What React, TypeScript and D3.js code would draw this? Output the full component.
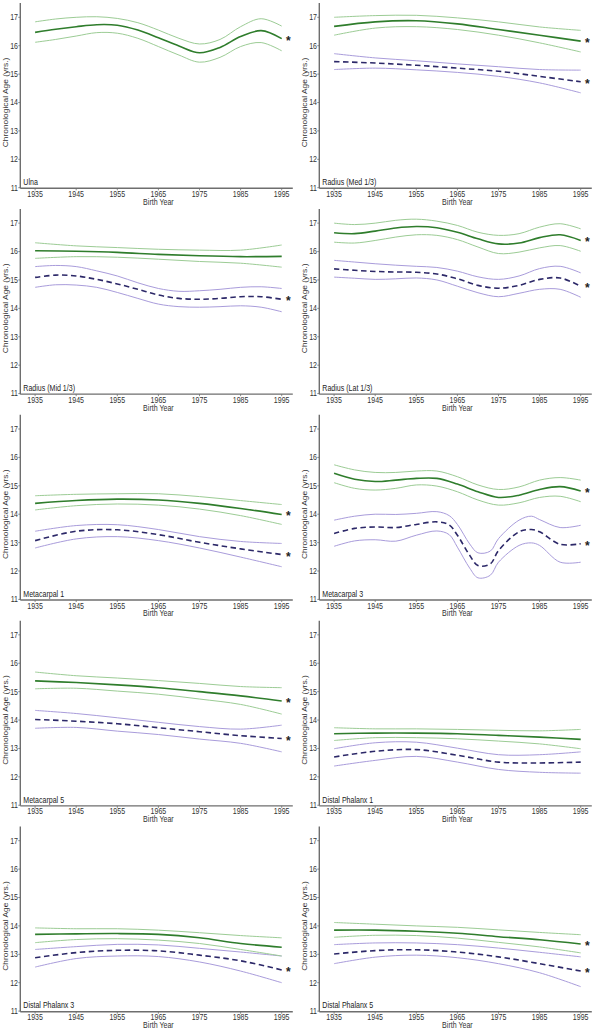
import React from "react";
import * as d3 from "d3";

// ---------- data ----------
const years10 = [1935, 1945, 1955, 1965, 1975, 1985, 1995];
const years5 = [1935, 1940, 1945, 1950, 1955, 1960, 1965, 1970, 1975, 1980, 1985, 1990, 1995];
const yearsMc3Purple = [1935, 1940, 1945, 1950, 1955, 1960, 1963, 1965, 1968, 1970, 1973, 1975, 1980, 1983, 1985, 1990, 1995];

const yTicks = [11, 12, 13, 14, 15, 16, 17];
const xTicks = [1935, 1945, 1955, 1965, 1975, 1985, 1995];

// Ulna
const ulnaGreen = [16.47, 16.58, 16.67, 16.74, 16.72, 16.55, 16.28, 15.99, 15.75, 15.94, 16.32, 16.53, 16.25];
const ulnaGreenHi = [16.84, 16.94, 17.0, 17.02, 16.96, 16.81, 16.55, 16.26, 16.06, 16.22, 16.67, 16.95, 16.69];
const ulnaGreenLo = [16.12, 16.22, 16.34, 16.46, 16.44, 16.26, 15.97, 15.67, 15.42, 15.59, 15.97, 16.11, 15.82];

// Radius (Med 1/3)
const radMedGreen = [16.68, 16.84, 16.88, 16.77, 16.57, 16.37, 16.16];
const radMedGreenHi = [17.0, 17.06, 17.07, 16.98, 16.84, 16.66, 16.54];
const radMedGreenLo = [16.37, 16.62, 16.67, 16.57, 16.37, 16.1, 15.78];
const radMedPurple = [15.44, 15.39, 15.31, 15.21, 15.1, 14.92, 14.73];
const radMedPurpleHi = [15.72, 15.57, 15.47, 15.36, 15.26, 15.16, 15.14];
const radMedPurpleLo = [15.16, 15.21, 15.15, 15.06, 14.92, 14.69, 14.34];

// Radius (Mid 1/3)
const radMidGreen = [16.03, 16.01, 15.97, 15.9, 15.85, 15.82, 15.83];
const radMidGreenHi = [16.31, 16.2, 16.14, 16.08, 16.05, 16.05, 16.23];
const radMidGreenLo = [15.76, 15.82, 15.8, 15.73, 15.65, 15.59, 15.45];
const radMidPurple = [15.09, 15.17, 15.14, 15.02, 14.86, 14.67, 14.47, 14.35, 14.32, 14.35, 14.41, 14.41, 14.32];
const radMidPurpleHi = [15.47, 15.51, 15.47, 15.32, 15.14, 14.9, 14.7, 14.6, 14.62, 14.67, 14.74, 14.76, 14.7];
const radMidPurpleLo = [14.74, 14.83, 14.82, 14.74, 14.56, 14.35, 14.15, 14.06, 14.04, 14.06, 14.09, 14.04, 13.88];

// Radius (Lat 1/3)
const radLatGreen = [16.66, 16.63, 16.72, 16.83, 16.88, 16.84, 16.68, 16.45, 16.27, 16.3, 16.49, 16.59, 16.39];
const radLatGreenHi = [17.0, 16.95, 17.0, 17.1, 17.14, 17.07, 16.92, 16.68, 16.57, 16.63, 16.86, 16.98, 16.8];
const radLatGreenLo = [16.33, 16.3, 16.39, 16.51, 16.59, 16.57, 16.42, 16.16, 15.93, 15.98, 16.13, 16.21, 16.01];
const radLatPurple = [15.39, 15.34, 15.3, 15.28, 15.27, 15.21, 15.04, 14.81, 14.71, 14.81, 15.02, 15.07, 14.78];
const radLatPurpleHi = [15.69, 15.63, 15.57, 15.52, 15.48, 15.44, 15.31, 15.11, 15.02, 15.14, 15.4, 15.48, 15.25];
const radLatPurpleLo = [15.1, 15.06, 15.02, 15.04, 15.07, 15.0, 14.78, 14.55, 14.41, 14.53, 14.67, 14.67, 14.39];

// Metacarpal 1
const mc1Green = [14.38, 14.48, 14.53, 14.5, 14.38, 14.2, 13.99];
const mc1GreenHi = [14.65, 14.7, 14.72, 14.72, 14.62, 14.48, 14.34];
const mc1GreenLo = [14.15, 14.3, 14.36, 14.32, 14.18, 13.95, 13.64];
const mc1Purple = [13.07, 13.4, 13.45, 13.28, 13.01, 12.78, 12.58];
const mc1PurpleHi = [13.4, 13.6, 13.63, 13.46, 13.21, 13.04, 12.97];
const mc1PurpleLo = [12.81, 13.13, 13.21, 13.07, 12.81, 12.49, 12.15];

// Metacarpal 3
const mc3Green = [15.44, 15.23, 15.15, 15.2, 15.26, 15.26, 15.06, 14.79, 14.59, 14.67, 14.87, 14.97, 14.82];
const mc3GreenHi = [15.74, 15.56, 15.47, 15.47, 15.52, 15.52, 15.32, 15.03, 14.87, 14.96, 15.2, 15.29, 15.2];
const mc3GreenLo = [15.11, 14.91, 14.85, 14.91, 15.03, 14.99, 14.79, 14.5, 14.32, 14.4, 14.59, 14.63, 14.44];
const mc3Purple = [13.32, 13.5, 13.55, 13.53, 13.64, 13.73, 13.62, 13.26, 12.55, 12.19, 12.25, 12.72, 13.38, 13.46, 13.38, 12.94, 12.96];
const mc3PurpleHi = [13.79, 13.93, 14.0, 13.99, 14.03, 14.09, 13.95, 13.64, 12.95, 12.64, 12.7, 13.14, 13.79, 13.93, 13.81, 13.53, 13.61];
const mc3PurpleLo = [12.87, 13.06, 13.1, 13.05, 13.26, 13.41, 13.28, 12.84, 12.1, 11.76, 11.85, 12.31, 12.9, 12.99, 12.9, 12.31, 12.31];

// Metacarpal 5
const mc5Green = [15.38, 15.32, 15.24, 15.14, 15.0, 14.85, 14.67];
const mc5GreenHi = [15.69, 15.56, 15.48, 15.39, 15.29, 15.18, 15.14];
const mc5GreenLo = [15.1, 15.12, 15.02, 14.91, 14.74, 14.55, 14.21];
const mc5Purple = [14.02, 13.96, 13.87, 13.73, 13.59, 13.45, 13.35];
const mc5PurpleHi = [14.34, 14.23, 14.08, 13.92, 13.77, 13.68, 13.82];
const mc5PurpleLo = [13.71, 13.74, 13.61, 13.49, 13.33, 13.18, 12.88];

// Distal Phalanx 1
const dp1Green = [13.52, 13.54, 13.54, 13.52, 13.46, 13.4, 13.32];
const dp1GreenHi = [13.73, 13.69, 13.69, 13.67, 13.64, 13.62, 13.67];
const dp1GreenLo = [13.28, 13.38, 13.38, 13.34, 13.26, 13.16, 12.99];
const dp1Purple = [12.7, 12.9, 12.96, 12.76, 12.52, 12.49, 12.52];
const dp1PurpleHi = [12.99, 13.2, 13.22, 13.01, 12.78, 12.78, 12.88];
const dp1PurpleLo = [12.38, 12.58, 12.72, 12.52, 12.26, 12.16, 12.13];

// Distal Phalanx 3
const dp3Green = [13.7, 13.72, 13.73, 13.7, 13.58, 13.38, 13.25];
const dp3GreenHi = [13.93, 13.9, 13.9, 13.85, 13.76, 13.66, 13.58];
const dp3GreenLo = [13.41, 13.52, 13.55, 13.5, 13.38, 13.17, 12.94];
const dp3Purple = [12.88, 13.06, 13.14, 13.12, 12.97, 12.77, 12.45];
const dp3PurpleHi = [13.17, 13.27, 13.35, 13.33, 13.21, 13.08, 12.94];
const dp3PurpleLo = [12.55, 12.85, 12.94, 12.92, 12.73, 12.41, 12.0];

// Distal Phalanx 5
const dp5Green = [13.85, 13.85, 13.81, 13.74, 13.62, 13.51, 13.36];
const dp5GreenHi = [14.12, 14.06, 14.0, 13.95, 13.86, 13.77, 13.69];
const dp5GreenLo = [13.6, 13.67, 13.66, 13.57, 13.42, 13.26, 13.05];
const dp5Purple = [13.01, 13.13, 13.16, 13.08, 12.91, 12.67, 12.41];
const dp5PurpleHi = [13.34, 13.4, 13.4, 13.34, 13.22, 13.07, 12.91];
const dp5PurpleLo = [12.67, 12.9, 12.97, 12.88, 12.67, 12.35, 11.86];

type Band = { years: number[]; mean: number[]; hi: number[]; lo: number[]; star: boolean };
type Panel = { label: string; green: Band; purple?: Band };

const panels: Panel[] = [
  { label: "Ulna", green: { years: years5, mean: ulnaGreen, hi: ulnaGreenHi, lo: ulnaGreenLo, star: true } },
  {
    label: "Radius (Med 1/3)",
    green: { years: years10, mean: radMedGreen, hi: radMedGreenHi, lo: radMedGreenLo, star: true },
    purple: { years: years10, mean: radMedPurple, hi: radMedPurpleHi, lo: radMedPurpleLo, star: true },
  },
  {
    label: "Radius (Mid 1/3)",
    green: { years: years10, mean: radMidGreen, hi: radMidGreenHi, lo: radMidGreenLo, star: false },
    purple: { years: years5, mean: radMidPurple, hi: radMidPurpleHi, lo: radMidPurpleLo, star: true },
  },
  {
    label: "Radius (Lat 1/3)",
    green: { years: years5, mean: radLatGreen, hi: radLatGreenHi, lo: radLatGreenLo, star: true },
    purple: { years: years5, mean: radLatPurple, hi: radLatPurpleHi, lo: radLatPurpleLo, star: true },
  },
  {
    label: "Metacarpal 1",
    green: { years: years10, mean: mc1Green, hi: mc1GreenHi, lo: mc1GreenLo, star: true },
    purple: { years: years10, mean: mc1Purple, hi: mc1PurpleHi, lo: mc1PurpleLo, star: true },
  },
  {
    label: "Metacarpal 3",
    green: { years: years5, mean: mc3Green, hi: mc3GreenHi, lo: mc3GreenLo, star: true },
    purple: { years: yearsMc3Purple, mean: mc3Purple, hi: mc3PurpleHi, lo: mc3PurpleLo, star: true },
  },
  {
    label: "Metacarpal 5",
    green: { years: years10, mean: mc5Green, hi: mc5GreenHi, lo: mc5GreenLo, star: true },
    purple: { years: years10, mean: mc5Purple, hi: mc5PurpleHi, lo: mc5PurpleLo, star: true },
  },
  {
    label: "Distal Phalanx 1",
    green: { years: years10, mean: dp1Green, hi: dp1GreenHi, lo: dp1GreenLo, star: false },
    purple: { years: years10, mean: dp1Purple, hi: dp1PurpleHi, lo: dp1PurpleLo, star: false },
  },
  {
    label: "Distal Phalanx 3",
    green: { years: years10, mean: dp3Green, hi: dp3GreenHi, lo: dp3GreenLo, star: false },
    purple: { years: years10, mean: dp3Purple, hi: dp3PurpleHi, lo: dp3PurpleLo, star: true },
  },
  {
    label: "Distal Phalanx 5",
    green: { years: years10, mean: dp5Green, hi: dp5GreenHi, lo: dp5GreenLo, star: true },
    purple: { years: years10, mean: dp5Purple, hi: dp5PurpleHi, lo: dp5PurpleLo, star: true },
  },
];

// ---------- styles ----------
const FONT = "'Liberation Sans', Arial, sans-serif";
const AXIS = "#6e6e6e";
const TEXT = "#333333";
const GREEN = "#2f7d2c";
const GREEN_CI = "#9ccc95";
const PURPLE = "#2c2868";
const PURPLE_CI = "#a99cdb";
const FS = 8.4;
const SQ = 0.84; // horizontal squeeze of the reference typography

const W = 595;
const H = 1030;
const COL_DX = 299;
const ROW_DY = 205.85;

const xScale = d3.scaleLinear().domain([1931.4, 1997.7]).range([20.3, 292.8]);
const yScale = d3.scaleLinear().domain([11, 17]).range([187.7, 17.3]);
const yTop = yScale(17.5);
const yBot = 188.3;

function lineFor(years: number[], vals: number[]) {
  const gen = d3
    .line<number>()
    .x((_, i) => xScale(years[i]))
    .y((v) => yScale(v))
    .curve(d3.curveCatmullRom.alpha(0.5));
  return gen(vals) || "";
}

function SqText({
  x,
  y,
  anchor,
  size,
  fill,
  dy,
  children,
}: {
  x: number;
  y: number;
  anchor?: "start" | "middle" | "end";
  size?: number;
  fill?: string;
  dy?: string;
  children: React.ReactNode;
}) {
  return (
    <text
      transform={`translate(${x},${y}) scale(${SQ},1)`}
      textAnchor={anchor || "start"}
      dy={dy}
      fontSize={size || FS}
      fill={fill || TEXT}
      fontFamily={FONT}
    >
      {children}
    </text>
  );
}

function PanelView({ p, idx }: { p: Panel; idx: number }) {
  const col = idx % 2;
  const row = Math.floor(idx / 2);
  const tx = col * COL_DX;
  const ty = row * ROW_DY;
  const x0 = xScale.range()[0];
  const x1 = xScale.range()[1];
  const bands: { b: Band; kind: "g" | "p" }[] = [];
  if (p.purple) bands.push({ b: p.purple, kind: "p" });
  bands.push({ b: p.green, kind: "g" });
  return (
    <g transform={`translate(${tx},${ty})`}>
      {/* axes */}
      <line x1={x0} x2={x0} y1={yTop} y2={yBot} stroke={AXIS} strokeWidth={1.4} />
      <line x1={x0} x2={x1} y1={yBot} y2={yBot} stroke={AXIS} strokeWidth={1.4} />
      {yTicks.map((t) => (
        <g key={"y" + t}>
          <line x1={x0 - 2} x2={x0} y1={yScale(t)} y2={yScale(t)} stroke={AXIS} strokeWidth={0.8} />
          <SqText x={x0 - 2.3} y={yScale(t)} dy="0.35em" anchor="end">
            {t}
          </SqText>
        </g>
      ))}
      {xTicks.map((t) => (
        <g key={"x" + t}>
          <line x1={xScale(t)} x2={xScale(t)} y1={yBot} y2={yBot + 2} stroke={AXIS} strokeWidth={0.8} />
          <SqText x={xScale(t)} y={yBot + 8.6} anchor="middle">
            {t}
          </SqText>
        </g>
      ))}
      <SqText x={(xScale(1935) + xScale(1995)) / 2} y={yBot + 16.4} anchor="middle">
        Birth Year
      </SqText>
      <text
        transform={`translate(8,${(yScale(11) + yScale(17)) / 2}) rotate(-90) scale(1,${SQ})`}
        textAnchor="middle"
        fontSize={FS}
        fill={TEXT}
        fontFamily={FONT}
      >
        Chronological Age (yrs.)
      </text>
      <SqText x={x0 + 3} y={yBot - 3.3} fill="#222">
        {p.label}
      </SqText>
      {/* series */}
      {bands.map(({ b, kind }) => (
        <g key={kind}>
          <path d={lineFor(b.years, b.hi)} fill="none" stroke={kind === "g" ? GREEN_CI : PURPLE_CI} strokeWidth={1} />
          <path d={lineFor(b.years, b.lo)} fill="none" stroke={kind === "g" ? GREEN_CI : PURPLE_CI} strokeWidth={1} />
          <path
            d={lineFor(b.years, b.mean)}
            fill="none"
            stroke={kind === "g" ? GREEN : PURPLE}
            strokeWidth={1.6}
            strokeDasharray={kind === "p" ? "5.5,3.5" : undefined}
          />
          {b.star && (
            <text
              x={xScale(1996.6)}
              y={yScale(b.mean[b.mean.length - 1]) + 6}
              textAnchor="middle"
              fontSize={12}
              fontWeight="bold"
              fill="#222"
              fontFamily={FONT}
            >
              *
            </text>
          )}
        </g>
      ))}
    </g>
  );
}

export default function App() {
  return (
    <svg width={W} height={H} style={{ display: "block", position: "absolute", left: 0, top: 0, background: "#fff" }}>
      <rect width={W} height={H} fill="#fff" />
      {panels.map((p, i) => (
        <PanelView key={p.label} p={p} idx={i} />
      ))}
    </svg>
  );
}
